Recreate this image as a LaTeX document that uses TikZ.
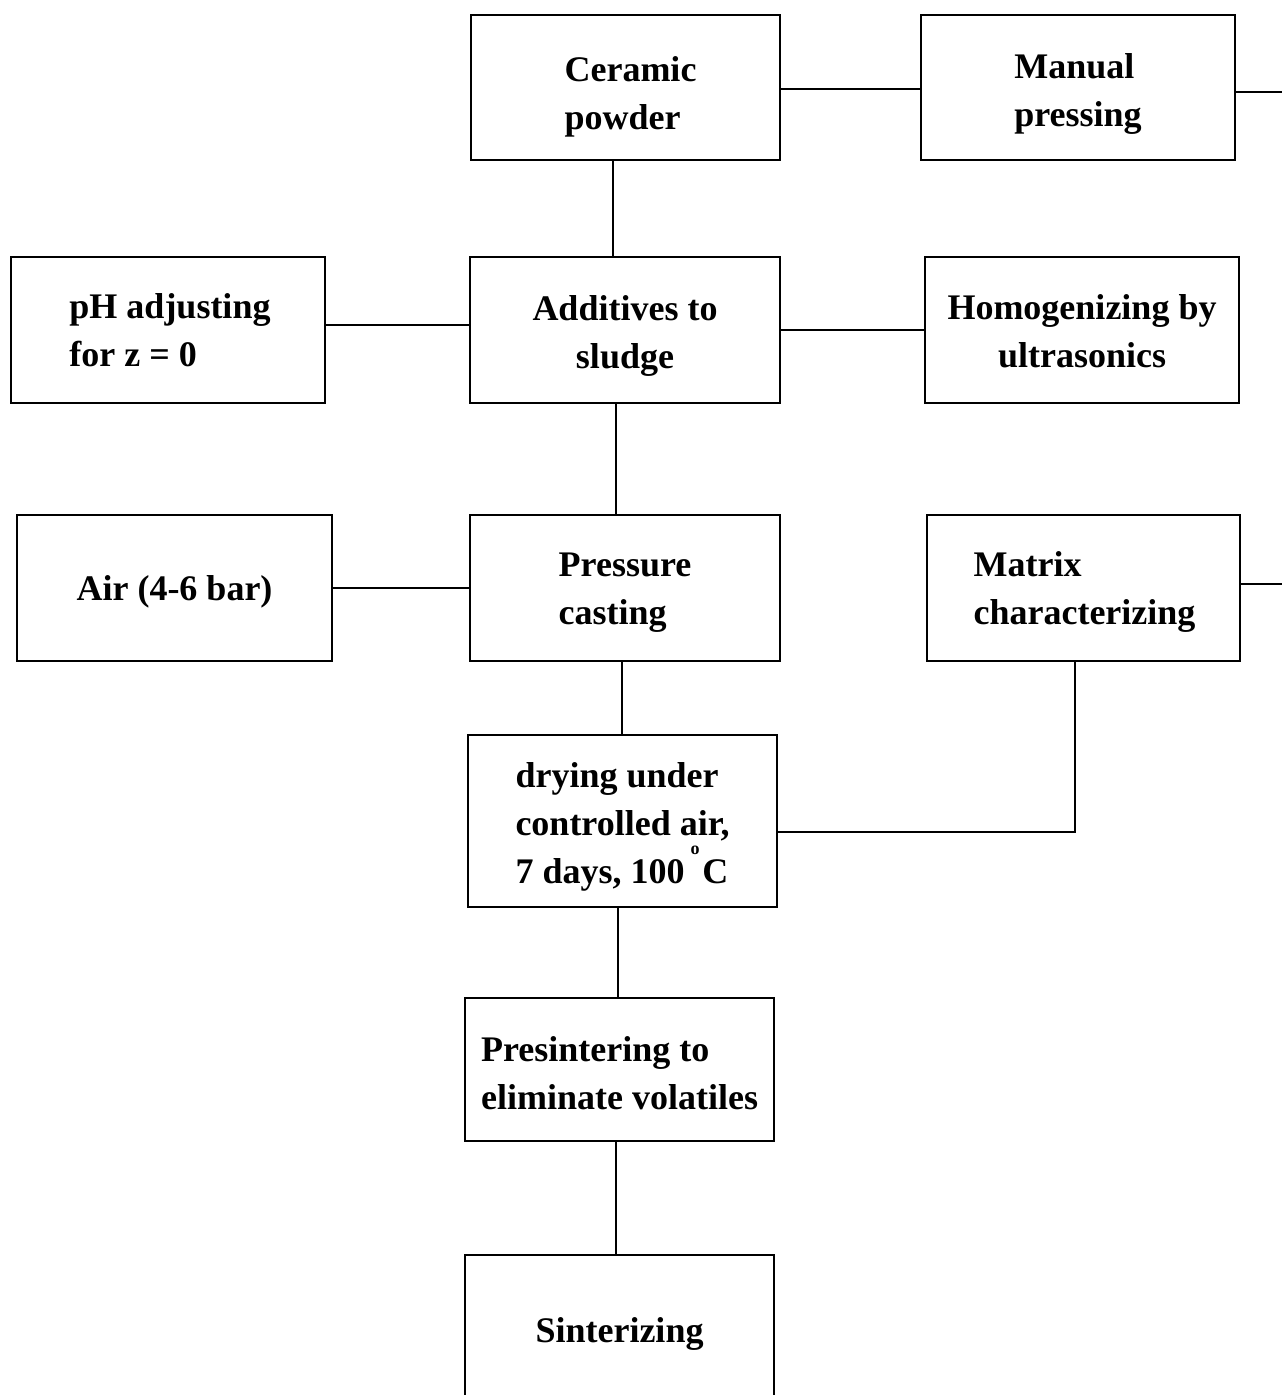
\documentclass[tikz,border=0pt]{standalone}
\usepackage{fontspec}
\setmainfont{Liberation Serif}
\begin{document}
\begin{tikzpicture}[x=1pt,y=-1pt,
  box/.style={draw=black, line width=1.8pt, inner sep=0pt},
  txt/.style={inner sep=0pt, align=left, font=\fontsize{36}{48}\selectfont\bfseries},
  ctxt/.style={txt, align=center},
  conn/.style={draw=black, line width=1.8pt}]
\useasboundingbox (0,0) rectangle (1282,1395);
\clip (0,0) rectangle (1282,1395);
% boxes with their texts
\node[box, minimum width=309pt, minimum height=145pt,
  label={[txt, yshift=-9pt, xshift=5pt]center:{Ceramic\\powder}}] (cer) at (625.5,87.5) {};
\node[box, minimum width=314pt, minimum height=145pt,
  label={[txt, yshift=-6pt]center:{Manual\\pressing}}] (man) at (1078,87.5) {};
\node[box, minimum width=314pt, minimum height=146pt,
  label={[txt, xshift=2pt]center:{pH adjusting\\for z = 0}}] (ph) at (168,330) {};
\node[box, minimum width=310pt, minimum height=146pt,
  label={[ctxt, yshift=-6pt]center:{Additives to\\sludge}}] (add) at (625,330) {};
\node[box, minimum width=314pt, minimum height=146pt,
  label={[ctxt, yshift=-1pt]center:{Homogenizing by\\ultrasonics}}] (hom) at (1082,330) {};
\node[box, minimum width=315pt, minimum height=146pt,
  label={[txt, yshift=-4pt]center:{Air (4-6 bar)}}] (air) at (174.5,588) {};
\node[box, minimum width=310pt, minimum height=146pt,
  label={[txt, yshift=-5pt]center:{Pressure\\casting}}] (pre) at (625,588) {};
\node[box, minimum width=313pt, minimum height=146pt,
  label={[txt, yshift=-4pt, xshift=1pt]center:{Matrix\\characterizing}}] (mat) at (1083.5,588) {};
\node[box, minimum width=309pt, minimum height=172pt,
  label={[txt, yshift=-6pt]center:{drying under\\controlled air,\\7 days, 100\,\raisebox{0.8em}{\fontsize{18}{18}\selectfont o}\hspace{0.08em}C}}] (dry) at (622.5,821) {};
\node[box, minimum width=309pt, minimum height=143pt,
  label={[txt, yshift=-4pt]center:{Presintering to\\eliminate volatiles}}] (psi) at (619.5,1069.5) {};
\node[box, minimum width=309pt, minimum height=160pt,
  label={[txt, yshift=1pt]center:{Sinterizing}}] (sin) at (619.5,1335) {};
% free ends at the right margin
\coordinate (endA) at (1282,92);
\coordinate (endB) at (1282,584);
% connectors
\draw[conn] ([yshift=-1.5pt]cer.east) -- ([yshift=-1.5pt]man.east -| man.west);
\draw[conn] ([yshift=-4.5pt]man.east) -- (endA);
\draw[conn] ([xshift=-12.5pt]cer.south) -- ([xshift=-12.5pt]cer.south |- add.north);
\draw[conn] ([yshift=5pt]ph.east) -- ([yshift=5pt]add.west);
\draw[conn] (add.east) -- (add.east -| hom.west);
\draw[conn] ([xshift=-9pt]add.south) -- ([xshift=-9pt]add.south |- pre.north);
\draw[conn] (air.east) -- (air.east -| pre.west);
\draw[conn] ([yshift=4pt]mat.east) -- (endB);
\draw[conn] ([xshift=-3pt]pre.south) -- ([xshift=-3pt]pre.south |- dry.north);
\draw[conn] ([yshift=-11pt]dry.east) -| ([xshift=-8.5pt]mat.south);
\draw[conn] ([xshift=-4.5pt]dry.south) -- ([xshift=-4.5pt]dry.south |- psi.north);
\draw[conn] ([xshift=-3.5pt]psi.south) -- ([xshift=-3.5pt]psi.south |- sin.north);
\end{tikzpicture}
\end{document}
